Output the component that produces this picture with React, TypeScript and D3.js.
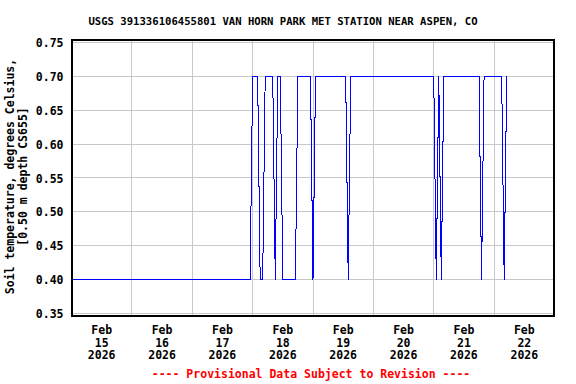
import React from "react";
import * as d3 from "d3";

// Hours since Feb 15 2026 00:00 at which the hourly series changes direction
const hours = [0, 71, 72, 74, 75, 76, 77, 80, 81, 82, 83, 84, 89, 90, 95, 96, 97, 109, 110, 111, 144, 145, 146, 147, 148, 162, 163, 164, 171, 172, 173];
const temps = [0.4, 0.4, 0.7, 0.7, 0.4, 0.4, 0.7, 0.7, 0.4, 0.7, 0.7, 0.4, 0.4, 0.7, 0.7, 0.4, 0.7, 0.7, 0.4, 0.7, 0.7, 0.4, 0.7, 0.4, 0.7, 0.7, 0.4, 0.7, 0.7, 0.4, 0.7];
const yTicks = [0.35, 0.4, 0.45, 0.5, 0.55, 0.6, 0.65, 0.7, 0.75];
const dayLabels = ["15", "16", "17", "18", "19", "20", "21", "22"];
const title = "USGS 391336106455801 VAN HORN PARK MET STATION NEAR ASPEN, CO";
const yTitle1 = "Soil temperature, degrees Celsius,";
const yTitle2 = "[0.50 m depth CS655]";
const footer = "---- Provisional Data Subject to Revision ----";

const start = new Date(2026, 1, 15, 0, 0, 0);
const end = new Date(2026, 1, 23, 0, 0, 0);

export default function App() {
  const W = 576, H = 384;
  const x = d3.scaleTime().domain([start, end]).range([71.5, 554.5]);
  const y = d3.scaleLinear().domain([0.35, 0.75]).range([313.33, 42.67]);
  const data = hours.map((h, i) => ({ t: d3.timeHour.offset(start, h), v: temps[i] }));
  const line = d3.line<{ t: Date; v: number }>().x(d => x(d.t)).y(d => y(d.v));
  const days = d3.timeDay.range(d3.timeDay.offset(start, 1), end);
  const font = "'DejaVu Sans Mono', monospace";
  return (
    <svg width={W} height={H} style={{ position: "absolute", left: 0, top: 0, background: "#fff" }}>
      <rect x={0} y={0} width={W} height={H} fill="#fff" />
      <text x={283} y={25} textAnchor="middle" fontFamily={font} fontWeight="bold" fontSize={10.6}>{title}</text>
      <g shapeRendering="crispEdges" stroke="#c8c8c8" strokeWidth={1}>
        {yTicks.map(v => (
          <line key={v} x1={72} x2={554} y1={Math.floor(y(v)) + 0.5} y2={Math.floor(y(v)) + 0.5} />
        ))}
        {days.map(d => (
          <line key={+d} x1={Math.floor(x(d)) + 0.5} x2={Math.floor(x(d)) + 0.5} y1={40} y2={316} />
        ))}
      </g>
      <path d={line(data) || ""} fill="none" stroke="#0000ff" strokeWidth={1} shapeRendering="crispEdges" />
      <rect x={72} y={40} width={482} height={276} fill="none" stroke="#000" strokeWidth={2} shapeRendering="crispEdges" />
      {yTicks.map(v => (
        <text key={v} x={63.5} y={y(v) + 4.6} textAnchor="end" fontFamily={font} fontWeight="bold" fontSize={11.5}>{v.toFixed(2)}</text>
      ))}
      {dayLabels.map((lab, i) => {
        const cx = x(d3.timeHour.offset(start, 24 * i + 12));
        return (
          <text key={lab} textAnchor="middle" fontFamily={font} fontWeight="bold" fontSize={11.5}>
            <tspan x={cx} y={334}>Feb</tspan>
            <tspan x={cx} y={346.7}>{lab}</tspan>
            <tspan x={cx} y={359.3}>2026</tspan>
          </text>
        );
      })}
      <g transform="translate(0,176.5) rotate(-90)" fontFamily={font} fontWeight="bold" fontSize={11.5}>
        <text x={0} y={14} textAnchor="middle">{yTitle1}</text>
        <text x={0} y={26.5} textAnchor="middle">{yTitle2}</text>
      </g>
      <text x={311} y={378.3} textAnchor="middle" fontFamily={font} fontWeight="bold" fontSize={11.5} fill="#ff0000">{footer}</text>
    </svg>
  );
}
